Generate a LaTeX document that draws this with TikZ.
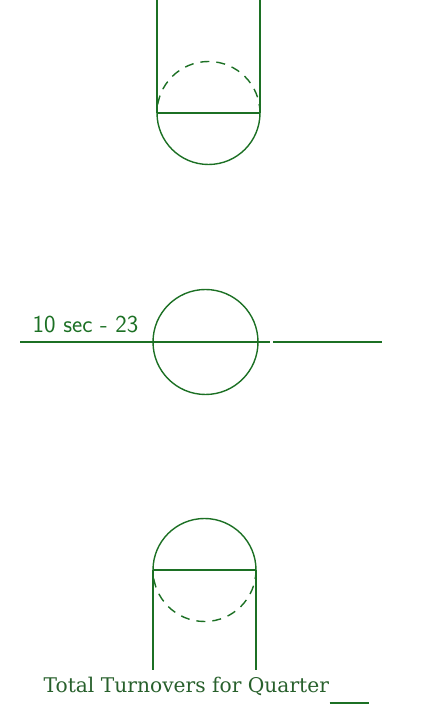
\documentclass[tikz,border=0pt]{standalone}
\usepackage{fontspec}
\usepackage{tikz}
\usetikzlibrary{calc}
\newfontfamily\captionfont{DejaVu Serif}
\definecolor{inkgreen}{RGB}{28,112,36}
\definecolor{textgreen}{RGB}{40,96,44}

\begin{document}
\begin{tikzpicture}[x=1bp, y=1bp, line width=1.4bp,
    ink/.style={draw=inkgreen},
    dashink/.style={draw=inkgreen, dash pattern=on 9bp off 7bp}]
    \useasboundingbox (0,0) rectangle (430,707);

    % Top: tube coming down with end circle
    \draw[ink] (157,707) -- (157,594);
    \draw[ink] (260,707) -- (260,594);
    \draw[ink] (157,594) -- (260,594);
    \draw[ink] (157,594) arc[start angle=180, end angle=360, radius=51.5];
    \draw[dashink] (260,594) arc[start angle=0, end angle=180, radius=51.5];

    % Middle: circle on the line
    \draw[ink] (205.5,365) circle (52.5);
    \draw[ink] (20,365) -- (270,365);
    \draw[ink] (273,365) -- (382,365);
    \node[anchor=base west, inner sep=0pt, text=inkgreen, font=\sffamily\fontsize{24.5}{26}\selectfont] (hand) at (32,374) {10 sec - 23};

    % Bottom: tube going down with end circle
    \draw[ink] (153,137) arc[start angle=180, end angle=0, radius=51.5];
    \draw[dashink] (256,137) arc[start angle=0, end angle=-180, radius=51.5];
    \draw[ink] (153,137) -- (256,137);
    \draw[ink] (153,137) -- (153,37);
    \draw[ink] (256,137) -- (256,37);

    % Caption
    \node[anchor=base west, inner sep=0pt, text=textgreen, font=\captionfont\fontsize{20.3}{23}\selectfont] (caption) at (43,14) {Total Turnovers for Quarter};
    \draw[ink, line width=1.6bp] ($(caption.base east)+(0,-10)$) coordinate (blank) -- ++(39,0);
\end{tikzpicture}
\end{document}
